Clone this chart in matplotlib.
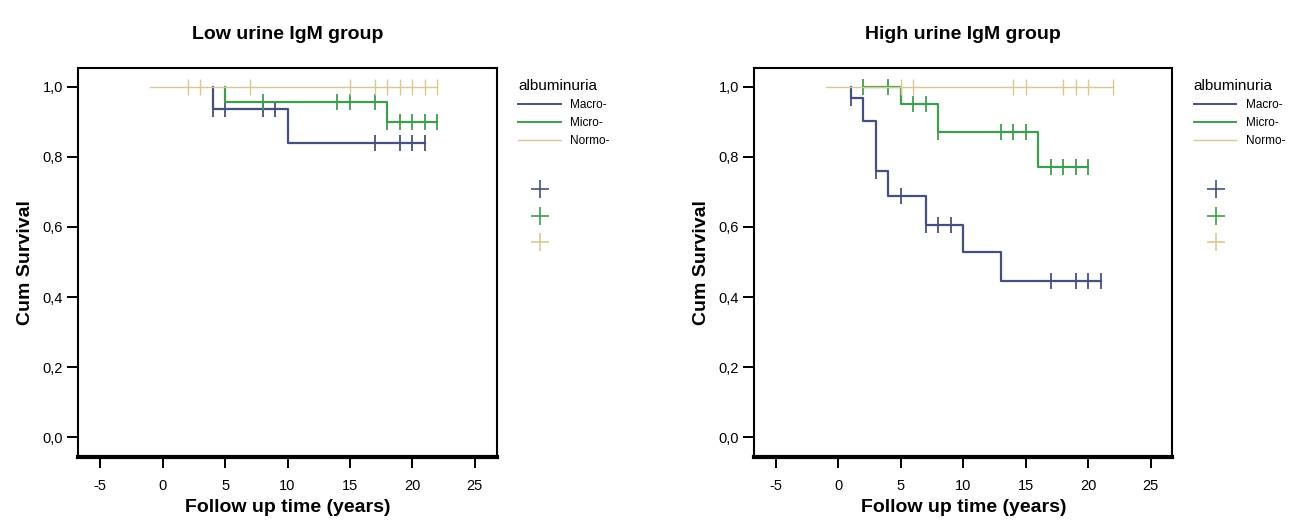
#!/usr/bin/env python3
"""
Kaplan-Meier plots by urine IgM group (low / high), split by albuminuria
"""

import numpy as np
import matplotlib
matplotlib.use("Agg")
import matplotlib.pyplot as plt
from matplotlib.lines import Line2D
from matplotlib.ticker import FuncFormatter

plt.rcParams['font.family'] = ['Liberation Sans Narrow', 'Liberation Sans', 'DejaVu Sans']
plt.rcParams['axes.unicode_minus'] = False

# albuminuria groups
groups = ['Macro-', 'Micro-', 'Normo-']
colors = ['#46507e', '#3f9d50', '#d8c896']

# --- Low urine IgM group ---
low_start = [4, 5, -1]
low_end = [21, 22, 22]
low_events = [[4, 10], [5, 18], []]
low_surv = [[0.936, 0.84], [0.955, 0.90], []]
low_cens = [[4, 5, 8, 9, 17, 19, 20, 21],
            [8, 14, 15, 17, 18, 19, 20, 21, 22],
            [2, 3, 7, 15, 17, 18, 19, 20, 21, 22]]

# --- High urine IgM group ---
high_start = [1, 2, -1]
high_end = [21, 20, 22]
high_events = [[1, 2, 3, 4, 7, 10, 13], [5, 8, 16], []]
high_surv = [[0.967, 0.902, 0.758, 0.689, 0.605, 0.527, 0.447],
             [0.95, 0.87, 0.77], []]
high_cens = [[1, 3, 5, 7, 8, 9, 17, 19, 20, 21],
             [2, 4, 6, 7, 8, 13, 14, 15, 17, 18, 19, 20],
             [5, 6, 14, 15, 18, 19, 20, 22]]

x_ticks = [-5, 0, 5, 10, 15, 20, 25]
y_ticks = [0.0, 0.2, 0.4, 0.6, 0.8, 1.0]


def surv_at(t, events, surv):
    # KM value just after time t
    idx = np.searchsorted(events, t, side='right')
    return 1.0 if idx == 0 else surv[idx - 1]


def draw_panel(ax, title, starts, ends, events, survs, cens):
    for i in range(len(groups)):
        xs = [starts[i]] + list(events[i]) + [ends[i]]
        ys = [1.0] + list(survs[i]) + [survs[i][-1] if survs[i] else 1.0]
        lw = 1.0 if i == 2 else 1.6
        ax.step(xs, ys, where='post', color=colors[i], lw=lw, zorder=3 + i)
        cy = [surv_at(t, events[i], survs[i]) for t in cens[i]]
        ax.plot(cens[i], cy, linestyle='none', marker='|', markersize=11,
                mew=1.3 if i < 2 else 1.0, color=colors[i], zorder=3 + i)

    ax.set_xlim(-6.75, 26.75)
    ax.set_ylim(-0.057, 1.052)
    ax.set_xticks(x_ticks)
    ax.set_yticks(y_ticks)
    ax.yaxis.set_major_formatter(FuncFormatter(lambda v, p: f"{v:.1f}".replace('.', ',')))
    ax.tick_params(direction='out', length=8, width=1.4, labelsize=10.5, pad=3)
    ax.tick_params(axis='x', pad=8)
    for s in ['left', 'right', 'top']:
        ax.spines[s].set_linewidth(1.5)
    ax.spines['bottom'].set_linewidth(3)
    ax.set_title(title, fontsize=14, fontweight='bold', pad=21)
    ax.set_xlabel('Follow up time (years)', fontsize=14, fontweight='bold', labelpad=4)
    ax.set_ylabel('Cum Survival', fontsize=14, fontweight='bold', labelpad=6)

    # legend: lines with labels, then the censor markers
    line_handles = [Line2D([], [], color=c, lw=1.4 if k < 2 else 1.0) for k, c in enumerate(colors)]
    leg = ax.legend(line_handles, groups, title='albuminuria', loc='upper left',
                    bbox_to_anchor=(1.04, 0.985), frameon=False, fontsize=8.5,
                    title_fontsize=11, handlelength=3.6, handletextpad=0.8,
                    labelspacing=0.5, borderaxespad=0, alignment='left')
    ax.add_artist(leg)
    mark_handles = [Line2D([], [], color=c, marker='+', linestyle='none',
                           markersize=13, mew=1.2) for c in colors]
    ax.legend(mark_handles, ['', '', ''], loc='upper left',
              bbox_to_anchor=(1.065, 0.715), frameon=False, fontsize=8.5,
              labelspacing=1.25, borderaxespad=0, handletextpad=0)


fig = plt.figure(figsize=(13.07, 5.22), dpi=100)
ax1 = fig.add_axes([0.060, 0.124, 0.320, 0.745])
ax2 = fig.add_axes([0.577, 0.124, 0.320, 0.745])

draw_panel(ax1, 'Low urine IgM group', low_start, low_end, low_events, low_surv, low_cens)
draw_panel(ax2, 'High urine IgM group', high_start, high_end, high_events, high_surv, high_cens)

fig.savefig('out.png', dpi=100)
